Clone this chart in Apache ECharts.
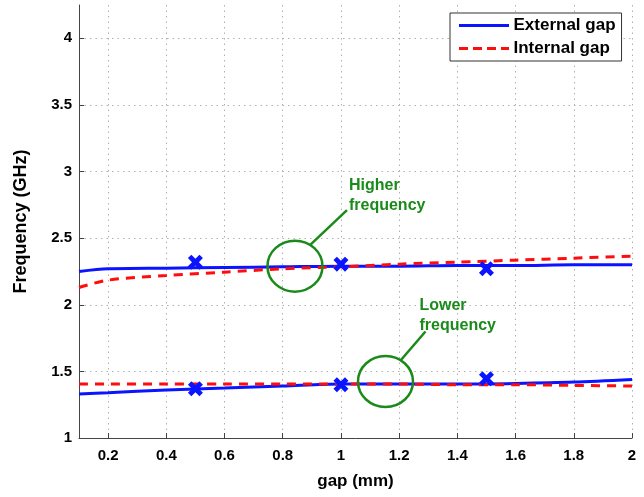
<!DOCTYPE html>
<html>
<head>
<meta charset="utf-8">
<script src="https://cdn.jsdelivr.net/npm/echarts@6/dist/echarts.min.js"></script>
<style>html,body{margin:0;padding:0;background:#fff;}#c{width:644px;height:497px;}</style>
</head>
<body>
<div id="c"></div>
<script>
// ---- data ----
const gaps = [0.1, 0.2, 0.4, 0.6, 0.8, 1.0, 1.2, 1.4, 1.6, 1.8, 2.0];
const extHigh = [2.25, 2.27, 2.275, 2.28, 2.285, 2.29, 2.29, 2.295, 2.295, 2.30, 2.30];
const intHigh = [2.13, 2.185, 2.22, 2.245, 2.27, 2.285, 2.305, 2.32, 2.335, 2.35, 2.365];
const extLow  = [1.33, 1.34, 1.36, 1.375, 1.39, 1.405, 1.405, 1.405, 1.41, 1.42, 1.44];
const intLow  = [1.405, 1.405, 1.405, 1.405, 1.405, 1.405, 1.405, 1.40, 1.40, 1.395, 1.39];
const markerGaps = [0.5, 1.0, 1.5];
const markerHigh = [2.32, 2.305, 2.27];
const markerLow  = [1.37, 1.40, 1.445];
const xTicks = [0.2, 0.4, 0.6, 0.8, 1.0, 1.2, 1.4, 1.6, 1.8, 2.0];
const yTicks = [1, 1.5, 2, 2.5, 3, 3.5, 4];
const seriesNames = ['External gap', 'Internal gap'];
const annHigh = {label: 'Higher\nfrequency', center: [0.842, 2.29]};
const annLow = {label: 'Lower\nfrequency', center: [1.153, 1.424]};

const pairs = (xs, ys) => xs.map((x, i) => [x, ys[i]]);
const BLUE = '#0a14ff', RED = '#ff0d0d', GREEN = '#1a8a1a';
const font = 'Liberation Sans, Arial, sans-serif';
const t = 2.3;
const xPath = 'path://M0,' + t + ' L' + t + ',0 L5,' + (5 - t) + ' L' + (10 - t) + ',0 L10,' + t + ' L' + (5 + t) + ',5 L10,' + (10 - t) +
  ' L' + (10 - t) + ',10 L5,' + (5 + t) + ' L' + t + ',10 L0,' + (10 - t) + ' L' + (5 - t) + ',5 Z';
const solidIcon = 'path://M0,0 H50 V3 H0 Z';
const dashIcon = 'path://M0,0 H9 V3 H0 Z M14,0 H23 V3 H14 Z M28,0 H37 V3 H28 Z M42,0 H50 V3 H42 Z';
const gridStyle = {show: true, lineStyle: {color: '#b0b0b0', type: [1.5, 4], width: 1}};

const chart = echarts.init(document.getElementById('c'));
const lineS = (name, data, color, dashed) => ({
  name, type: 'line', data, symbol: 'none', smooth: 0.3,
  lineStyle: {color, width: 3, type: dashed ? [9, 7] : 'solid'},
  itemStyle: {color}
});
chart.setOption({
  animation: false,
  backgroundColor: '#fff',
  grid: {left: 79, right: 12, top: 5, bottom: 59},
  legend: {
    data: [{name: seriesNames[0], icon: solidIcon}, {name: seriesNames[1], icon: dashIcon}],
    orient: 'vertical', left: 450, top: 13,
    backgroundColor: '#fff', borderColor: '#333', borderWidth: 1,
    padding: [4, 6, 4, 9], itemGap: 6, itemWidth: 51, itemHeight: 3,
    textStyle: {fontFamily: font, fontWeight: 'bold', fontSize: 17, color: '#000', padding: [0, 0, 0, -1]}
  },
  xAxis: {
    type: 'value', min: 0.1, max: 2,
    name: 'gap (mm)', nameLocation: 'middle', nameGap: 35,
    nameTextStyle: {fontFamily: font, fontWeight: 'bold', fontSize: 17, color: '#000'},
    axisLine: {lineStyle: {color: '#444', width: 1}},
    axisTick: {inside: true, length: 5, customValues: xTicks, lineStyle: {color: '#444'}},
    axisLabel: {customValues: xTicks, fontFamily: font, fontWeight: 'bold', fontSize: 15, color: '#000', margin: 10},
    splitLine: gridStyle
  },
  yAxis: {
    type: 'value', min: 1, max: 4.25,
    name: 'Frequency (GHz)', nameLocation: 'middle', nameGap: 49,
    nameTextStyle: {fontFamily: font, fontWeight: 'bold', fontSize: 18, color: '#000'},
    axisLine: {show: true, lineStyle: {color: '#444', width: 1}},
    axisTick: {show: true, inside: true, length: 5, customValues: yTicks, lineStyle: {color: '#444'}},
    axisLabel: {customValues: yTicks, fontFamily: font, fontWeight: 'bold', fontSize: 15, color: '#000', margin: 7},
    splitLine: gridStyle
  },
  series: [
    lineS(seriesNames[0], pairs(gaps, extHigh), BLUE, false),
    lineS(seriesNames[1], pairs(gaps, intHigh), RED, true),
    lineS(seriesNames[0], pairs(gaps, extLow), BLUE, false),
    lineS(seriesNames[1], pairs(gaps, intLow), RED, true),
    {type: 'scatter', data: pairs(markerGaps, markerHigh), symbol: xPath, symbolSize: 15, itemStyle: {color: BLUE, opacity: 1}, z: 5},
    {type: 'scatter', data: pairs(markerGaps, markerLow), symbol: xPath, symbolSize: 15, itemStyle: {color: BLUE, opacity: 1}, z: 5}
  ]
});

function annotation(a, textDx, textDy, lineEnd) {
  const c = chart.convertToPixel({gridIndex: 0}, a.center);
  const rx = 27.5, ry = 25.5;
  const ang = -Math.PI / 3.2;
  const p0 = [c[0] + rx * Math.cos(ang), c[1] + ry * Math.sin(ang)];
  return [
    {type: 'ellipse', shape: {cx: c[0], cy: c[1], rx, ry}, style: {fill: 'none', stroke: GREEN, lineWidth: 2.5}, z: 10},
    {type: 'line', shape: {x1: p0[0], y1: p0[1], x2: c[0] + lineEnd[0], y2: c[1] + lineEnd[1]}, style: {stroke: GREEN, lineWidth: 2.5}, z: 10},
    {type: 'text', x: c[0] + textDx, y: c[1] + textDy, style: {text: a.label, fill: GREEN, font: 'bold 16px ' + font, lineHeight: 20, textVerticalAlign: 'top'}, z: 10}
  ];
}
chart.setOption({graphic: [].concat(
  annotation(annHigh, 54, -91, [52, -56]),
  annotation(annLow, 34, -86, [40, -50])
)});
</script>
</body>
</html>
